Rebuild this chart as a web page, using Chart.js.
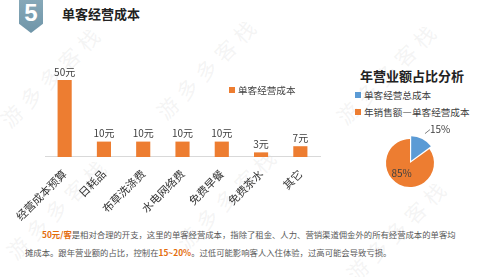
<!DOCTYPE html>
<html lang="zh">
<head>
<meta charset="UTF-8">
<title>单客经营成本</title>
<script src="https://cdn.jsdelivr.net/npm/chart.js@4.4.1/dist/chart.umd.min.js"></script>
<style>
  html, body { margin: 0; padding: 0; background: #fff; }
  body { width: 499px; height: 277px; position: relative; overflow: hidden;
         font-family: "Noto Sans CJK SC", "Noto Sans", sans-serif; color: #404040; }
  .badge { position: absolute; left: 19px; top: 0; width: 24px; height: 33px;
           background: linear-gradient(#86a8b8, #6f95a8);
           clip-path: polygon(0 0, 100% 0, 100% 72%, 50% 100%, 0 72%);
           color: #fff; font: bold 24px "Liberation Sans", sans-serif; text-align: center; line-height: 26px; }
  .title { position: absolute; left: 62px; top: 4px; font-size: 13px; font-weight: bold; color: #222; }
  .wm { position: absolute; font-size: 21px; color: rgba(190,190,190,0.16); transform: rotate(-45deg);
        transform-origin: left center; white-space: nowrap; letter-spacing: 6px; }
  #bar { position: absolute; left: 0; top: 55px; }
  #pie { position: absolute; left: 360px; top: 118px; }
  .lg { position: absolute; font-size: 9.6px; color: #404040; white-space: nowrap; }
  .lg i { display: inline-block; width: 6px; height: 6px; margin-right: 3px; vertical-align: 1px; }
  .ptitle { position: absolute; left: 360px; top: 66px; font-size: 13px; font-weight: bold; color: #222; }
  .para { position: absolute; left: 25px; top: 226px; font-size: 8.35px; line-height: 17.5px;
          color: #595959; white-space: nowrap; }
  .para b { color: #e46c0a; }
</style>
</head>
<body>
<div class="wm" style="left:4px; top:108px;">游多多客栈</div>
<div class="wm" style="left:160px; top:100px;">游多多客栈</div>
<div class="wm" style="left:10px; top:240px;">游多多客栈</div>
<div class="wm" style="left:180px; top:230px;">游多多客栈</div>
<div class="wm" style="left:340px; top:105px;">游多多客栈</div>
<div class="wm" style="left:350px; top:262px;">游多多客栈</div>

<div class="badge">5</div>
<div class="title">单客经营成本</div>

<canvas id="bar" width="330" height="170"></canvas>
<div class="lg" style="left:229px; top:83px;"><i style="background:#ed7d31"></i>单客经营成本</div>

<div class="ptitle">年营业额占比分析</div>
<div class="lg" style="left:355px; top:88px;"><i style="background:#5b9bd5"></i>单客经营总成本</div>
<div class="lg" style="left:355px; top:105px;"><i style="background:#ed7d31"></i>年销售额—单客经营成本</div>
<canvas id="pie" width="100" height="90"></canvas>

<div class="para"><span style="padding-left:17px"></span><b>50元/客</b>是相对合理的开支，这里的单客经营成本，指除了租金、人力、营销渠道佣金外的所有经营成本的单客均<br>摊成本。跟年营业额的占比，控制在<b>15~20%</b>。过低可能影响客人入住体验，过高可能会导致亏损。</div>

<script>
const categories = ['经营成本预算', '日耗品', '布草洗涤费', '水电网络费', '免费早餐', '免费茶水', '其它'];
const costValues = [50, 10, 10, 10, 10, 3, 7];
const pieLabels = ['单客经营总成本', '年销售额—单客经营成本'];
const pieValues = [15, 85];

// 柱子上方的数值标签
const barLabels = {
  id: 'barLabels',
  afterDatasetsDraw(chart) {
    const ctx = chart.ctx;
    ctx.save();
    ctx.font = '10px "Noto Sans CJK SC", sans-serif';
    ctx.fillStyle = '#404040';
    ctx.textAlign = 'center';
    ctx.textBaseline = 'bottom';
    chart.getDatasetMeta(0).data.forEach((bar, i) => {
      ctx.fillText(costValues[i] + '元', bar.x, bar.y - 3);
    });
    ctx.restore();
  }
};

new Chart(document.getElementById('bar'), {
  type: 'bar',
  data: {
    labels: categories,
    datasets: [{
      label: '单客经营成本',
      data: costValues,
      backgroundColor: '#ed7d31',
      barPercentage: 0.36,
      categoryPercentage: 1
    }]
  },
  options: {
    responsive: false,
    animation: false,
    layout: { padding: { top: 25, left: 45, right: 10 } },
    plugins: { legend: { display: false }, tooltip: { enabled: false } },
    scales: {
      y: { display: false, min: 0, max: 50 },
      x: {
        grid: { display: false },
        border: { color: '#d9d9d9', width: 1 },
        ticks: {
          color: '#333',
          font: { size: 11, family: '"Noto Sans CJK SC", sans-serif' },
          minRotation: 45, maxRotation: 45, padding: 2
        }
      }
    }
  },
  plugins: [barLabels]
});

// 饼图百分比标签
const pieText = {
  id: 'pieText',
  afterDatasetsDraw(chart) {
    const ctx = chart.ctx;
    const arcs = chart.getDatasetMeta(0).data;
    ctx.save();
    ctx.font = '10px "Noto Sans CJK SC", sans-serif';
    ctx.fillStyle = '#404040';
    ctx.textBaseline = 'middle';
    // 15%
    const a = arcs[0];
    const mid = (a.startAngle + a.endAngle) / 2;
    const r0 = a.outerRadius + 10;
    const px = a.x + Math.cos(mid) * (r0 - 1), py = a.y + Math.sin(mid) * (r0 - 1);
    ctx.strokeStyle = '#7f7f7f';
    ctx.lineWidth = 1;
    ctx.beginPath();
    ctx.moveTo(px, py);
    ctx.lineTo(px + 5, py - 4);
    ctx.stroke();
    ctx.textAlign = 'left';
    ctx.fillText(pieValues[0] + '%', px + 5, py - 4);
    // 85%
    const b = arcs[1];
    const mid2 = (b.startAngle + b.endAngle) / 2;
    ctx.textAlign = 'center';
    ctx.fillText(pieValues[1] + '%', b.x + Math.cos(mid2) * 12 - 3, b.y + Math.sin(mid2) * 12);
    ctx.restore();
  }
};

new Chart(document.getElementById('pie'), {
  type: 'pie',
  data: {
    labels: pieLabels,
    datasets: [{
      data: pieValues,
      backgroundColor: ['#5b9bd5', '#ed7d31'],
      borderWidth: 0,
      offset: [10, 0]
    }]
  },
  options: {
    responsive: false,
    animation: false,
    radius: 24,
    plugins: { legend: { display: false }, tooltip: { enabled: false } }
  },
  plugins: [pieText]
});
</script>
</body>
</html>
